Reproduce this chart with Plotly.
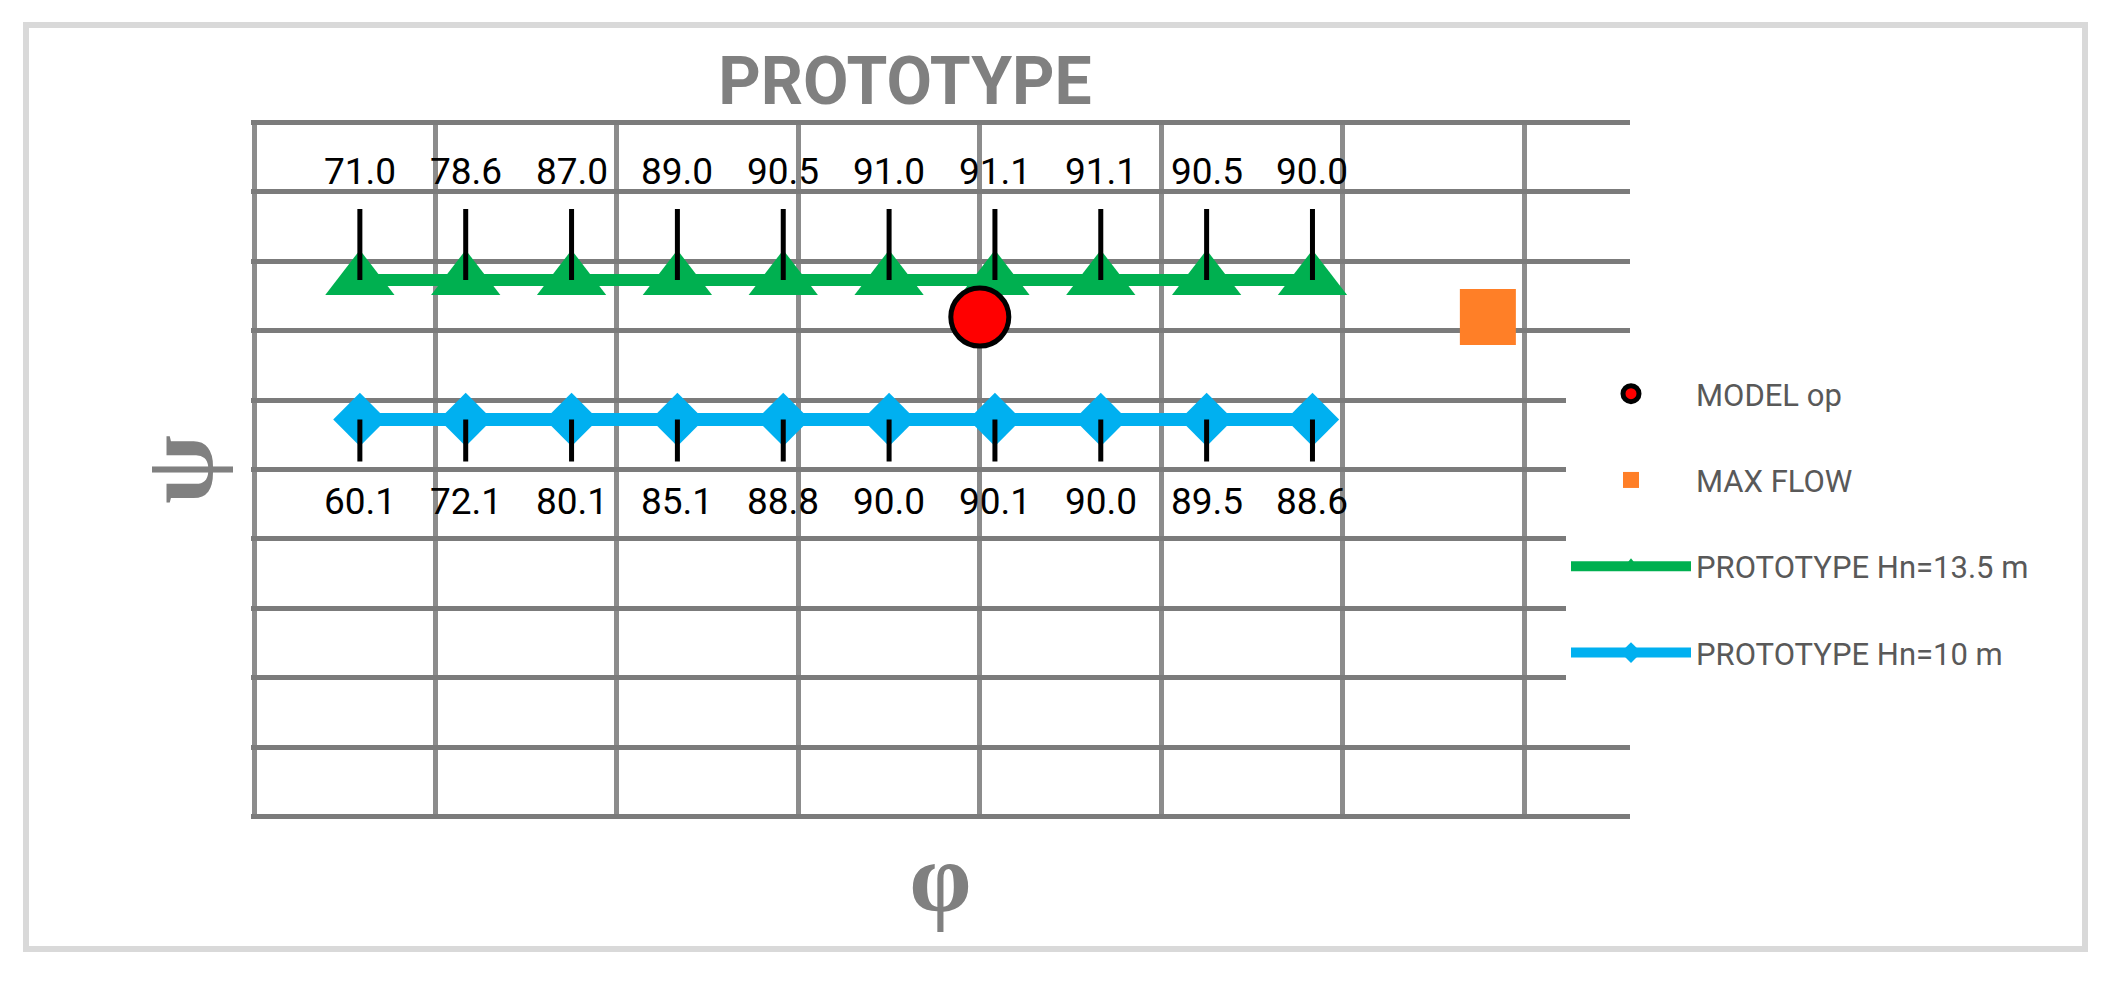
import plotly.graph_objects as go

# PROTOTYPE hill chart points (phi, psi) and efficiency labels
phi = [0.007, 0.014, 0.021, 0.028, 0.035, 0.042, 0.049, 0.056, 0.063, 0.070]
psi_hn13 = [0.773, 0.773, 0.773, 0.773, 0.773, 0.773, 0.773, 0.773, 0.773, 0.773]
psi_hn10 = [0.572, 0.572, 0.572, 0.572, 0.572, 0.572, 0.572, 0.572, 0.572, 0.572]
eff_hn13 = [71.0, 78.6, 87.0, 89.0, 90.5, 91.0, 91.1, 91.1, 90.5, 90.0]
eff_hn10 = [60.1, 72.1, 80.1, 85.1, 88.8, 90.0, 90.1, 90.0, 89.5, 88.6]
model_phi = [0.048]
model_psi = [0.7195]
maxflow_phi = [0.0816]
maxflow_psi = [0.7195]

green = '#00B050'
blue = '#00B0F0'
grey_text = '#808080'
label_font = dict(family='Roboto', size=37, color='black')
symbol_font = dict(family='Liberation Serif', size=100, color=grey_text, weight='bold')

fig = go.Figure()

fig.add_trace(go.Scatter(
    x=phi, y=psi_hn13, mode='lines+markers', name='PROTOTYPE Hn=13.5 m',
    line=dict(color=green, width=12),
    marker=dict(symbol='triangle-up', size=60, color=green),
    legendgroup='g3', legendrank=3))

fig.add_trace(go.Scatter(
    x=phi, y=psi_hn10, mode='lines+markers', name='PROTOTYPE Hn=10 m',
    line=dict(color=blue, width=13),
    marker=dict(symbol='diamond', size=41, color=blue),
    legendgroup='g4', legendrank=4))

fig.add_trace(go.Scatter(
    x=model_phi, y=model_psi, mode='markers', name='MODEL op',
    marker=dict(symbol='circle', size=58, color='#FF0000',
                line=dict(color='black', width=5)),
    legendgroup='g1', legendrank=1))

fig.add_trace(go.Scatter(
    x=maxflow_phi, y=maxflow_psi, mode='markers', name='MAX FLOW',
    marker=dict(symbol='square', size=56, color='#FF7F27'),
    legendgroup='g2', legendrank=2))

# data labels with leader lines
annotations = []
for x, y, v in zip(phi, psi_hn13, eff_hn13):
    annotations.append(dict(
        x=x, y=y, xref='x', yref='y', text=f'{v:.1f}', font=label_font,
        showarrow=True, ax=0, ay=-108, arrowhead=0, startarrowhead=0,
        arrowside='end+start', startstandoff=14, arrowwidth=5, arrowcolor='black'))
for x, y, v in zip(phi, psi_hn10, eff_hn10):
    annotations.append(dict(
        x=x, y=y, xref='x', yref='y', text=f'{v:.1f}', font=label_font,
        showarrow=True, ax=0, ay=82, arrowhead=0, startarrowhead=0,
        arrowside='end+start', startstandoff=17, arrowwidth=5, arrowcolor='black'))

fig.update_layout(
    width=2112, height=987,
    margin=dict(l=251, r=482, t=121, b=169, autoexpand=False),
    paper_bgcolor='white',
    plot_bgcolor='white',
    title=dict(text='PROTOTYPE', x=905 / 2112, xref='container', xanchor='center',
               y=1 - 81 / 987, yref='container', yanchor='middle',
               font=dict(family='Roboto', size=66, color=grey_text, weight='bold')),
    xaxis=dict(range=[-0.0002, 0.091], tick0=0, dtick=0.012,
               showgrid=True, gridcolor='#8c8c8c', gridwidth=5,
               zeroline=False, showticklabels=False, ticks='', showline=False,
               title=dict(text='φ', standoff=22, font=symbol_font)),
    yaxis=dict(range=[-0.002, 1.002], tick0=0, dtick=0.1,
               showgrid=True, gridcolor='#7b7b7b', gridwidth=5,
               zeroline=False, showticklabels=False, ticks='', showline=False,
               title=dict(text='ψ', standoff=4, font=symbol_font)),
    legend=dict(x=1566 / 2112, xref='container', xanchor='left',
                y=1 - 367 / 987, yref='container', yanchor='top',
                bgcolor='white', itemwidth=120, tracegroupgap=43,
                font=dict(family='Roboto', size=31, color='#595959')),
    annotations=annotations,
    shapes=[dict(type='rect', xref='paper', yref='paper',
                 x0=(26 - 251) / 1379, x1=(2085 - 251) / 1379,
                 y0=(818 - 949) / 697, y1=(818 - 25) / 697,
                 line=dict(color='#d9d9d9', width=6), layer='below')],
)

fig.write_html("out.html", config={'displayModeBar': False},
               post_script="document.body.style.margin='0';document.body.style.overflow='hidden';")
